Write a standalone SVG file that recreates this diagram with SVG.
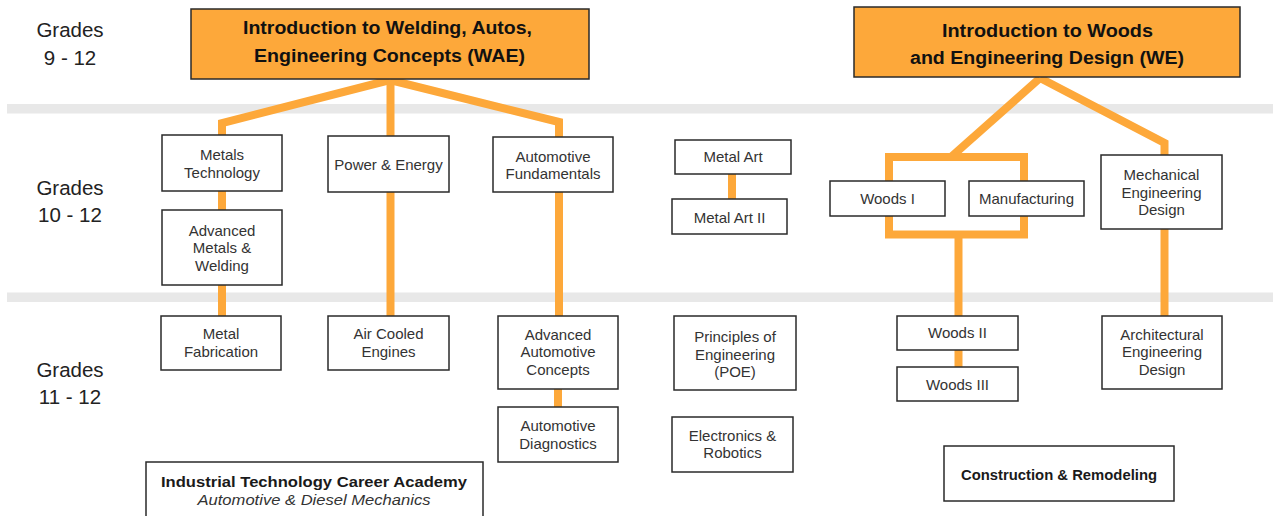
<svg xmlns="http://www.w3.org/2000/svg" width="1273" height="516" viewBox="0 0 1273 516">
<style>
.band{fill:#e8e8e8}
.con{fill:none;stroke:#fda83a;stroke-width:8;stroke-linejoin:miter}
.box{fill:#fff;stroke:#2a2a2a;stroke-width:1.5}
.tbox{fill:#fda83a;stroke:#2a2a2a;stroke-width:1.5}
.t{font-family:"Liberation Sans",Arial,sans-serif;font-size:15px;fill:#333;text-anchor:middle}
.tt{font-family:"Liberation Sans",Arial,sans-serif;font-size:17.5px;font-weight:bold;fill:#111}
.b{font-family:"Liberation Sans",Arial,sans-serif;font-size:15px;font-weight:bold;fill:#1a1a1a;text-anchor:middle}
.i{font-family:"Liberation Sans",Arial,sans-serif;font-size:15px;font-style:italic;fill:#333;text-anchor:middle}
.g{font-family:"Liberation Sans",Arial,sans-serif;font-size:20.5px;fill:#222;text-anchor:middle}
</style>
<rect width="1273" height="516" fill="#fff"/>
<g id="bands">
<rect class="band" x="7" y="104" width="1266" height="9.5"/>
<rect class="band" x="7" y="292.5" width="1266" height="9.5"/>
</g>
<g id="grade-labels">
<text class="g" x="70" y="37">Grades</text>
<text class="g" x="70" y="65">9 - 12</text>
<text class="g" x="70" y="195">Grades</text>
<text class="g" x="70" y="222">10 - 12</text>
<text class="g" x="70" y="377">Grades</text>
<text class="g" x="70" y="404">11 - 12</text>
</g>
<g id="connectors">
<polyline class="con" points="390,80 222,123 222,135"/>
<line class="con" x1="390.5" y1="80" x2="390.5" y2="316"/>
<polyline class="con" points="390,80 559,122 559,316"/>
<line class="con" x1="222" y1="190" x2="222" y2="316"/>
<line class="con" x1="558" y1="388" x2="558" y2="407"/>
<line class="con" x1="732" y1="173" x2="732" y2="199"/>
<polyline class="con" points="1040,78 951,157"/>
<polyline class="con" points="1040,78 1164.5,143 1164.5,316"/>
<rect class="con" x="889" y="157" width="135" height="77.5"/>
<line class="con" x1="958.5" y1="234" x2="958.5" y2="367"/>
</g>
<g id="wae">
<rect class="tbox" x="191" y="9" width="398" height="70"/>
<text class="tt" x="243" y="34" textLength="289" lengthAdjust="spacingAndGlyphs">Introduction to Welding, Autos,</text>
<text class="tt" x="254" y="62" textLength="271" lengthAdjust="spacingAndGlyphs">Engineering Concepts (WAE)</text>
</g>
<g id="we">
<rect class="tbox" x="854" y="7" width="386" height="70"/>
<text class="tt" x="942" y="36.5" textLength="211" lengthAdjust="spacingAndGlyphs">Introduction to Woods</text>
<text class="tt" x="910" y="64" textLength="274" lengthAdjust="spacingAndGlyphs">and Engineering Design (WE)</text>
</g>
<g id="metals-technology">
<rect class="box" x="162" y="135" width="120" height="56"/>
<text class="t" x="222" y="160">Metals</text>
<text class="t" x="222" y="178">Technology</text>
</g>
<g id="advanced-metals">
<rect class="box" x="162" y="210" width="120" height="75"/>
<text class="t" x="222" y="236">Advanced</text>
<text class="t" x="222" y="253">Metals &amp;</text>
<text class="t" x="222" y="271">Welding</text>
</g>
<g id="power-energy">
<rect class="box" x="328" y="136" width="121" height="56"/>
<text class="t" x="388.5" y="170">Power &amp; Energy</text>
</g>
<g id="automotive-fundamentals">
<rect class="box" x="493" y="137" width="120" height="55"/>
<text class="t" x="553" y="162">Automotive</text>
<text class="t" x="553" y="179">Fundamentals</text>
</g>
<g id="metal-art">
<rect class="box" x="675" y="140" width="116" height="34"/>
<text class="t" x="733" y="162">Metal Art</text>
</g>
<g id="metal-art-2">
<rect class="box" x="672" y="199" width="115" height="35"/>
<text class="t" x="729.5" y="223">Metal Art II</text>
</g>
<g id="woods-1">
<rect class="box" x="830" y="181" width="115" height="35"/>
<text class="t" x="887.5" y="204">Woods I</text>
</g>
<g id="manufacturing">
<rect class="box" x="969" y="181" width="115" height="35"/>
<text class="t" x="1026.5" y="204">Manufacturing</text>
</g>
<g id="mechanical-engineering-design">
<rect class="box" x="1101" y="155" width="121" height="74"/>
<text class="t" x="1161.5" y="180">Mechanical</text>
<text class="t" x="1161.5" y="198">Engineering</text>
<text class="t" x="1161.5" y="215">Design</text>
</g>
<g id="metal-fabrication">
<rect class="box" x="161" y="316" width="120" height="54"/>
<text class="t" x="221" y="339">Metal</text>
<text class="t" x="221" y="357">Fabrication</text>
</g>
<g id="air-cooled-engines">
<rect class="box" x="328" y="316" width="121" height="54"/>
<text class="t" x="388.5" y="339">Air Cooled</text>
<text class="t" x="388.5" y="357">Engines</text>
</g>
<g id="advanced-automotive-concepts">
<rect class="box" x="498" y="316" width="120" height="73"/>
<text class="t" x="558" y="340">Advanced</text>
<text class="t" x="558" y="357">Automotive</text>
<text class="t" x="558" y="375">Concepts</text>
</g>
<g id="automotive-diagnostics">
<rect class="box" x="498" y="407" width="120" height="55"/>
<text class="t" x="558" y="431">Automotive</text>
<text class="t" x="558" y="449">Diagnostics</text>
</g>
<g id="principles-of-engineering">
<rect class="box" x="674" y="316" width="122" height="74"/>
<text class="t" x="735" y="342">Principles of</text>
<text class="t" x="735" y="360">Engineering</text>
<text class="t" x="735" y="377">(POE)</text>
</g>
<g id="electronics-robotics">
<rect class="box" x="672" y="417" width="121" height="55"/>
<text class="t" x="732.5" y="441">Electronics &amp;</text>
<text class="t" x="732.5" y="458">Robotics</text>
</g>
<g id="woods-2">
<rect class="box" x="897" y="316" width="121" height="34"/>
<text class="t" x="957.5" y="338">Woods II</text>
</g>
<g id="woods-3">
<rect class="box" x="897" y="367" width="121" height="34"/>
<text class="t" x="957.5" y="390">Woods III</text>
</g>
<g id="architectural-engineering-design">
<rect class="box" x="1102" y="316" width="120" height="73"/>
<text class="t" x="1162" y="340">Architectural</text>
<text class="t" x="1162" y="357">Engineering</text>
<text class="t" x="1162" y="375">Design</text>
</g>
<g id="career-academy">
<rect class="box" x="146" y="462" width="337" height="60"/>
<text class="b" x="314" y="487" textLength="306" lengthAdjust="spacingAndGlyphs">Industrial Technology Career Academy</text>
<text class="i" x="314" y="505" textLength="233" lengthAdjust="spacingAndGlyphs">Automotive &amp; Diesel Mechanics</text>
</g>
<g id="construction-remodeling">
<rect class="box" x="944" y="446" width="230" height="55"/>
<text class="b" x="1059" y="480" textLength="196" lengthAdjust="spacingAndGlyphs">Construction &amp; Remodeling</text>
</g>
</svg>
